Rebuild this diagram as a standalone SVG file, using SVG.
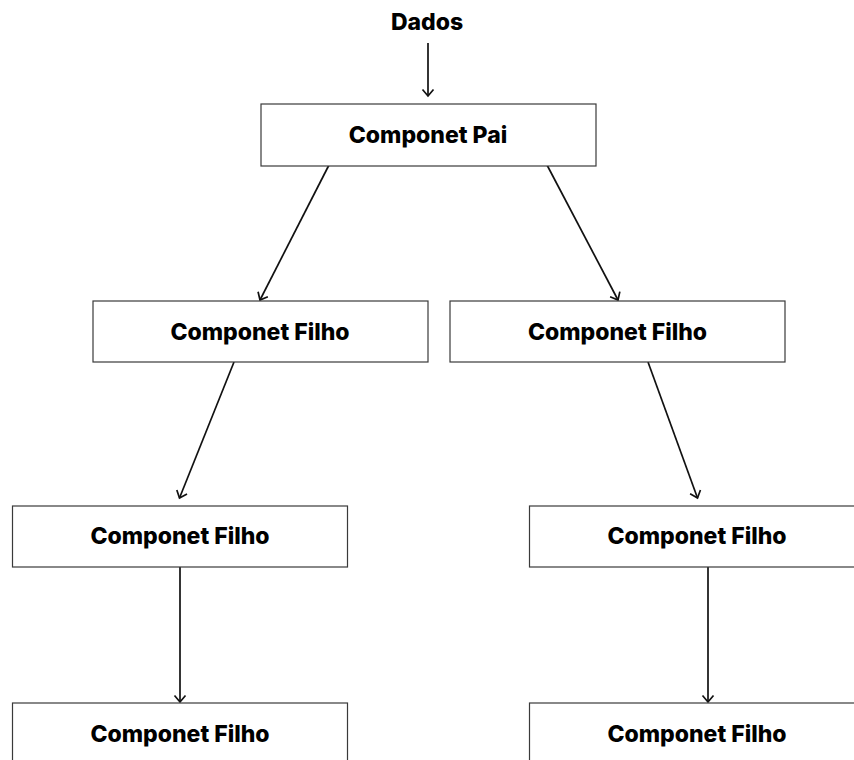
<svg xmlns="http://www.w3.org/2000/svg" width="854" height="760" viewBox="0 0 854 760">
<style>
.box{fill:#fff;stroke:#3a3a3a;stroke-width:1.2}
.lbl{font-family:Inter,"Liberation Sans",sans-serif;font-weight:800;font-size:23px;fill:#000;text-anchor:middle}
.edge{stroke:#111;stroke-width:1.7;fill:none;marker-end:url(#ah)}
</style>
<defs>
<marker id="ah" markerWidth="16" markerHeight="16" refX="8" refY="8" orient="auto" markerUnits="userSpaceOnUse">
<path d="M1.5,2.5 L8,8 L1.5,13.5" fill="none" stroke="#111" stroke-width="1.7"/>
</marker>
</defs>
<rect width="854" height="760" fill="#fff"/>
<g id="edges">
<line class="edge" x1="428" y1="43" x2="428" y2="96"/>
<line class="edge" x1="329" y1="165" x2="260" y2="300"/>
<line class="edge" x1="547" y1="165" x2="618" y2="300"/>
<line class="edge" x1="234" y1="362" x2="179.5" y2="498"/>
<line class="edge" x1="648" y1="362" x2="697.5" y2="498"/>
<line class="edge" x1="180" y1="567" x2="180" y2="702"/>
<line class="edge" x1="708" y1="567" x2="708" y2="702"/>
</g>
<g id="dados"><text class="lbl" x="427" y="30">Dados</text></g>
<g id="pai"><rect class="box" x="261" y="104" width="335" height="62"/><text class="lbl" x="428" y="143">Componet Pai</text></g>
<g id="filho1"><rect class="box" x="93" y="301" width="335" height="61"/><text class="lbl" x="260" y="340">Componet Filho</text></g>
<g id="filho2"><rect class="box" x="450" y="301" width="335" height="61"/><text class="lbl" x="617.5" y="340">Componet Filho</text></g>
<g id="filho3"><rect class="box" x="12.5" y="506" width="335" height="61"/><text class="lbl" x="180" y="544">Componet Filho</text></g>
<g id="filho4"><rect class="box" x="529.5" y="506" width="335" height="61"/><text class="lbl" x="697" y="544">Componet Filho</text></g>
<g id="filho5"><rect class="box" x="12.5" y="703" width="335" height="61"/><text class="lbl" x="180" y="742">Componet Filho</text></g>
<g id="filho6"><rect class="box" x="529.5" y="703" width="335" height="61"/><text class="lbl" x="697" y="742">Componet Filho</text></g>
</svg>
